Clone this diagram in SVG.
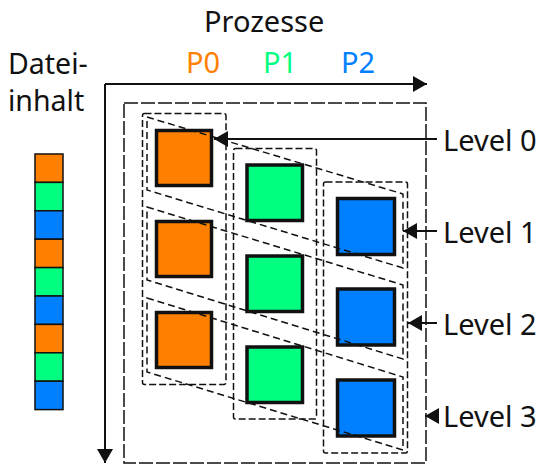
<svg xmlns="http://www.w3.org/2000/svg" width="543" height="464" viewBox="0 0 543 464">
<style>
text{font-family:"Noto Sans","Liberation Sans",sans-serif;font-size:29px;fill:#111}
.o{fill:#FF8000}.g{fill:#00FF80}.b{fill:#0080FF}
.sq{stroke:#111;stroke-width:3.5}
.cell{stroke:#111;stroke-width:1.5}
.col{fill:none;stroke:#111;stroke-width:1.5;stroke-dasharray:7 3}
.lvl{fill:none;stroke:#111;stroke-width:1.5;stroke-dasharray:7 4}
.ln{fill:none;stroke:#111;stroke-width:2}
</style>
<defs>
<marker id="ah" viewBox="0 0 14 16" refX="14" refY="8" markerWidth="14" markerHeight="16" markerUnits="userSpaceOnUse" orient="auto">
<path d="M0,0 L14,8 L0,16 Z" fill="#111"/>
</marker>
</defs>
<g id="labels">
<text x="204" y="32">Prozesse</text>
<text x="186" y="73" class="o">P0</text>
<text x="263" y="73" class="g">P1</text>
<text x="341" y="73" class="b">P2</text>
<text x="8" y="74" style="font-size:28.5px">Datei-</text>
<text x="8" y="111" style="font-size:28.5px">inhalt</text>
</g>
<g id="file">
<rect class="cell o" x="35" y="154" width="28" height="28.4"/>
<rect class="cell g" x="35" y="182.4" width="28" height="28.4"/>
<rect class="cell b" x="35" y="210.8" width="28" height="28.4"/>
<rect class="cell o" x="35" y="239.2" width="28" height="28.4"/>
<rect class="cell g" x="35" y="267.6" width="28" height="28.4"/>
<rect class="cell b" x="35" y="296" width="28" height="28.4"/>
<rect class="cell o" x="35" y="324.4" width="28" height="28.4"/>
<rect class="cell g" x="35" y="352.8" width="28" height="28.4"/>
<rect class="cell b" x="35" y="381.2" width="28" height="28.4"/>
</g>
<g id="frame">
<rect x="124" y="103" width="302" height="360" fill="none" stroke="#111" stroke-width="1.5" stroke-dasharray="14 3"/>
<rect class="col" x="142.5" y="113.5" width="83.5" height="271" rx="2"/>
<rect class="col" x="233.5" y="148.5" width="83" height="270.5" rx="2"/>
<rect class="col" x="323.5" y="182" width="84" height="271" rx="2"/>
</g>
<g id="squares">
<rect class="sq o" x="156.5" y="130.5" width="55" height="55"/>
<rect class="sq o" x="156.5" y="221.5" width="55" height="55"/>
<rect class="sq o" x="156.5" y="312.5" width="55" height="55"/>
<rect class="sq g" x="247" y="165" width="55.5" height="55.5"/>
<rect class="sq g" x="247" y="256" width="55.5" height="55.5"/>
<rect class="sq g" x="247" y="347" width="55.5" height="55.5"/>
<rect class="sq b" x="337.5" y="198.5" width="57" height="56"/>
<rect class="sq b" x="337.5" y="289" width="57" height="56"/>
<rect class="sq b" x="337.5" y="380" width="57" height="56"/>
</g>
<g id="levels">
<polygon class="lvl" points="147,117 403,194 403,268 147,190"/>
<polygon class="lvl" points="147,207 403,285 403,359 147,280"/>
<polygon class="lvl" points="147,298 403,377 403,450 147,372"/>
</g>
<g id="connectors">
<line class="ln" x1="105" y1="84" x2="427" y2="84" marker-end="url(#ah)"/>
<line class="ln" x1="105" y1="84" x2="105" y2="463" marker-end="url(#ah)"/>
<line class="ln" x1="437" y1="139" x2="214" y2="139" marker-end="url(#ah)"/>
<line class="ln" x1="437" y1="231" x2="403" y2="231" marker-end="url(#ah)"/>
<line class="ln" x1="437" y1="323" x2="408" y2="323" marker-end="url(#ah)"/>
<line class="ln" x1="439" y1="416" x2="425" y2="416" marker-end="url(#ah)"/>
</g>
<g id="level-labels">
<text x="443" y="151">Level 0</text>
<text x="443" y="243">Level 1</text>
<text x="443" y="335">Level 2</text>
<text x="443" y="427">Level 3</text>
</g>
</svg>
